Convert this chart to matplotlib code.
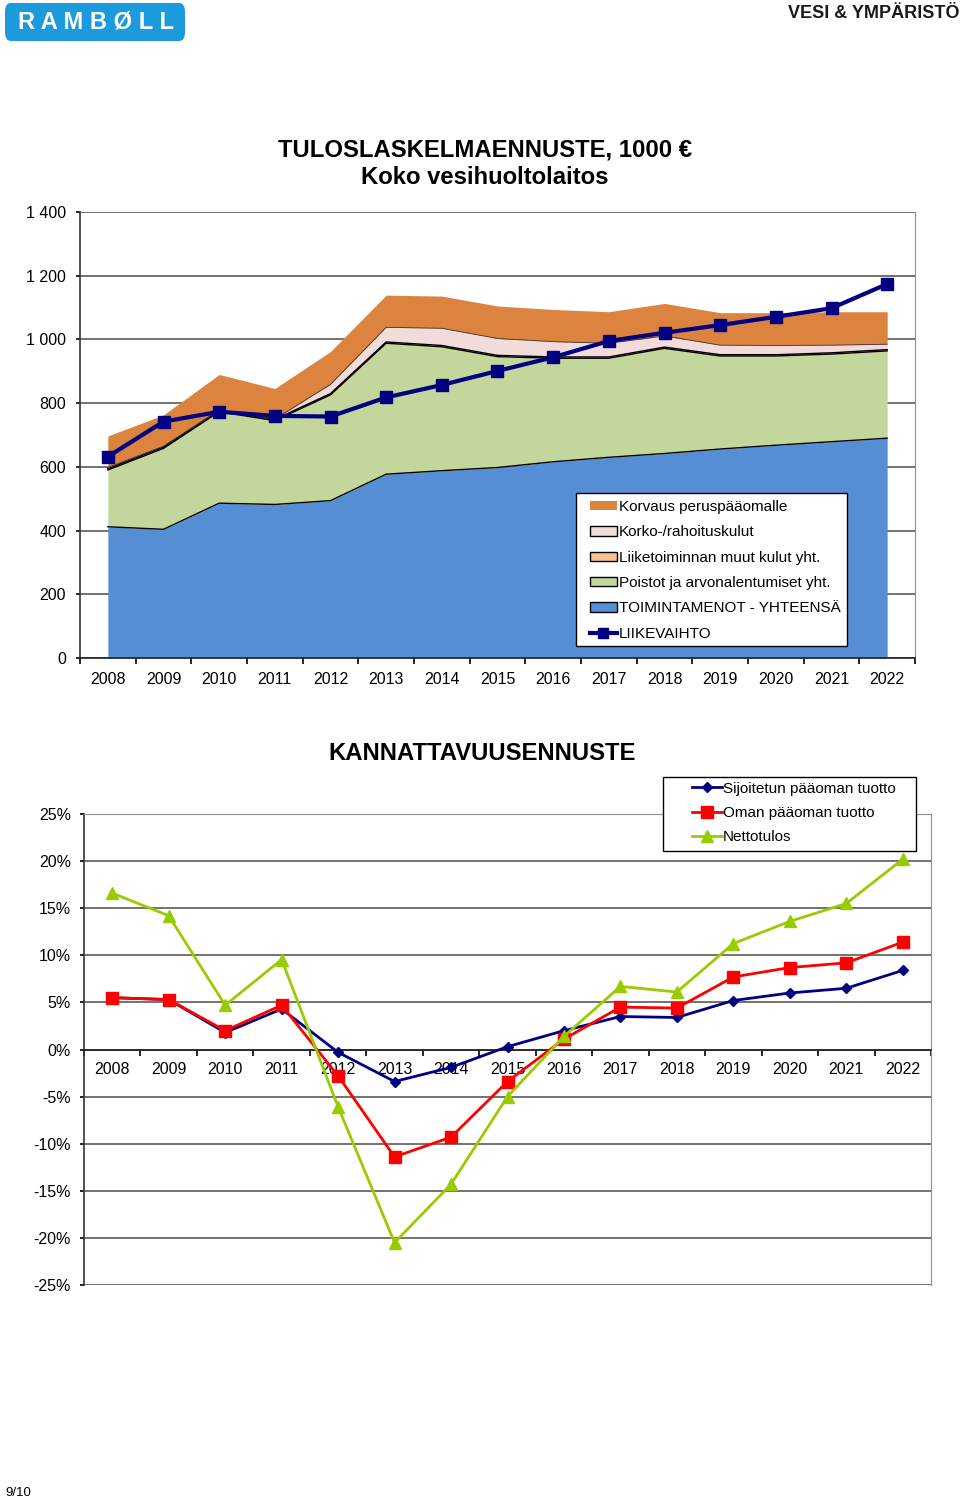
import matplotlib
matplotlib.use("Agg")
import matplotlib.pyplot as plt
from matplotlib.patches import FancyBboxPatch, Patch, Rectangle
from matplotlib.lines import Line2D
from matplotlib.ticker import FuncFormatter, MultipleLocator, FixedLocator

plt.rcParams['font.family'] = ['Liberation Sans', 'DejaVu Sans']

years = [str(y) for y in range(2008, 2023)]

# --- Tuloslaskelmaennuste (1000 EUR), stacked layers ---
toimintamenot = [412, 404, 486, 482, 494, 577, 588, 598, 616, 630, 642, 656, 668, 679, 690]
poistot = [178, 254, 287, 263, 332, 411, 389, 348, 325, 311, 330, 292, 280, 275, 274]
muut_kulut = [4, 4, 4, 4, 4, 4, 4, 4, 4, 4, 4, 4, 4, 4, 4]
korko = [4, 3, 1, 1, 29, 46, 54, 53, 48, 43, 35, 30, 29, 24, 17]
korvaus = [99, 98, 112, 96, 103, 101, 101, 102, 101, 99, 102, 102, 103, 105, 102]
liikevaihto = [632, 742, 773, 760, 758, 818, 857, 901, 944, 995, 1021, 1045, 1071, 1098, 1174]

# --- Kannattavuusennuste (%) ---
sijoitetun = [5.5, 5.3, 1.8, 4.3, -0.3, -3.4, -1.9, 0.3, 2.0, 3.5, 3.4, 5.2, 6.0, 6.5, 8.4]
oman = [5.5, 5.3, 2.0, 4.7, -2.8, -11.4, -9.3, -3.4, 1.1, 4.5, 4.4, 7.7, 8.7, 9.2, 11.4]
nettotulos = [16.6, 14.2, 4.7, 9.55, -6.1, -20.5, -14.3, -5.0, 1.4, 6.7, 6.1, 11.25, 13.6, 15.5, 20.2]

C_BLUE = '#558ED5'
C_GREEN = '#C3D69B'
C_PEACH = '#FAC090'
C_PINK = '#F2DCDB'
C_ORANGE = '#DC843F'
C_NAVY = '#000080'
GRID = '#5a5a5a'

W, H = 960, 1501
fig = plt.figure(figsize=(W / 100, H / 100), dpi=100)

def fx(px):
    return px / W

def fy(py):
    return 1 - py / H

# Header
logo = FancyBboxPatch((fx(5), fy(41)), fx(180), fy(3) - fy(41),
                      boxstyle="round,pad=0,rounding_size=0.006",
                      transform=fig.transFigure, facecolor='#1B9BDB', edgecolor='none')
fig.patches.append(logo)
fig.text(fx(96), fy(22), 'R A M B Ø L L', color='white', fontsize=17, fontweight='bold',
         ha='center', va='center')
fig.text(fx(959), fy(14), 'VESI & YMPÄRISTÖ', color='#1a1a1a', fontsize=13,
         fontweight='bold', ha='right', va='center')
fig.text(fx(5), fy(1493), '9/10', fontsize=9.5, ha='left', va='center')

# ---------------- Top chart ----------------
ax1 = fig.add_axes([fx(80), fy(658), fx(915) - fx(80), fy(212) - fy(658)])
x = list(range(len(years)))
layers = [toimintamenot, poistot, muut_kulut, korko, korvaus]
colors = [C_BLUE, C_GREEN, C_PEACH, C_PINK, C_ORANGE]
base = [0] * len(x)
tops = []
for vals, col in zip(layers, colors):
    top = [b + v for b, v in zip(base, vals)]
    ax1.fill_between(x, base, top, color=col, linewidth=0, zorder=2)
    tops.append(top)
    base = top
ax1.plot(x, tops[0], color='black', lw=1.0, zorder=3)
ax1.plot(x, tops[1], color='black', lw=1.0, zorder=3)
ax1.plot(x, tops[2], color='black', lw=1.0, zorder=3)
ax1.plot(x, tops[3], color='#3a3a3a', lw=0.6, zorder=3)
ax1.plot(x, liikevaihto, color=C_NAVY, lw=3, marker='s', markersize=8, zorder=4)

ax1.set_xlim(-0.5, len(x) - 0.5)
ax1.set_ylim(0, 1400)
ax1.yaxis.set_major_locator(MultipleLocator(200))
ax1.yaxis.set_major_formatter(FuncFormatter(lambda v, p: f"{int(v):,}".replace(',', ' ')))
ax1.grid(axis='y', color=GRID, lw=1.2, zorder=1)
ax1.set_axisbelow(True)
ax1.set_xticks(x)
ax1.set_xticklabels(years)
ax1.xaxis.set_minor_locator(FixedLocator([i - 0.5 for i in range(len(x) + 1)]))
ax1.tick_params(axis='x', which='major', length=0, labelsize=11.5, pad=10)
ax1.tick_params(axis='x', which='minor', length=4, width=1.2, direction='out')
ax1.tick_params(axis='y', length=3, width=1.2, labelsize=11.5, pad=7)
ax1.spines['top'].set_visible(False)
ax1.spines['right'].set_color('#909090')
ax1.spines['left'].set_linewidth(1.2)
ax1.spines['left'].set_color('#333333')
ax1.spines['bottom'].set_linewidth(1.2)
ax1.spines['bottom'].set_color('#222222')

fig.text(fx(485), fy(150), 'TULOSLASKELMAENNUSTE, 1000 €', fontsize=17.2,
         fontweight='bold', ha='center', va='center')
fig.text(fx(485), fy(177), 'Koko vesihuoltolaitos', fontsize=17.2,
         fontweight='bold', ha='center', va='center')

# legend 1 frame drawn manually
fig.patches.append(Rectangle((fx(576), fy(646)), fx(847) - fx(576), fy(493) - fy(646),
                             transform=fig.transFigure, facecolor='white',
                             edgecolor='black', lw=1.0, zorder=5))
h1 = [
    Patch(facecolor=C_ORANGE, edgecolor='none', label='Korvaus peruspääomalle'),
    Patch(facecolor=C_PINK, edgecolor='black', label='Korko-/rahoituskulut'),
    Patch(facecolor=C_PEACH, edgecolor='black', label='Liiketoiminnan muut kulut yht.'),
    Patch(facecolor=C_GREEN, edgecolor='black', label='Poistot ja arvonalentumiset yht.'),
    Patch(facecolor=C_BLUE, edgecolor='black', label='TOIMINTAMENOT - YHTEENSÄ'),
    Line2D([], [], color=C_NAVY, lw=3, marker='s', markersize=7, label='LIIKEVAIHTO'),
]
leg1 = fig.legend(handles=h1, loc='upper left', bbox_to_anchor=(fx(584), fy(494)),
                  fontsize=11, frameon=False, handlelength=1.75, handleheight=0.55,
                  handletextpad=0.12, labelspacing=0.74, borderpad=0.4, borderaxespad=0)
leg1.set_zorder(6)

# ---------------- Bottom chart ----------------
ax2 = fig.add_axes([fx(84), fy(1285), fx(931) - fx(84), fy(814) - fy(1285)])
ax2.plot(x, sijoitetun, color=C_NAVY, lw=2, marker='D', markersize=5.5, zorder=4,
         label='Sijoitetun pääoman tuotto')
ax2.plot(x, oman, color='#FF0000', lw=2, marker='s', markersize=8, zorder=4,
         label='Oman pääoman tuotto')
ax2.plot(x, nettotulos, color='#99CC00', lw=2, marker='^', markersize=8, zorder=4,
         label='Nettotulos')
ax2.set_xlim(-0.5, len(x) - 0.5)
ax2.set_ylim(-25, 25)
ax2.yaxis.set_major_locator(MultipleLocator(5))
ax2.yaxis.set_major_formatter(FuncFormatter(lambda v, p: f"{int(round(v))}%"))
ax2.grid(axis='y', color=GRID, lw=1.2, zorder=1)
ax2.set_axisbelow(True)
ax2.spines['bottom'].set_position(('data', 0))
ax2.spines['bottom'].set_linewidth(1.2)
ax2.spines['bottom'].set_color('#222222')
ax2.spines['left'].set_linewidth(1.2)
ax2.spines['left'].set_color('#333333')
ax2.spines['top'].set_color('#909090')
ax2.spines['right'].set_color('#909090')
ax2.set_xticks(x)
ax2.set_xticklabels(years)
ax2.xaxis.set_minor_locator(FixedLocator([i - 0.5 for i in range(len(x) + 1)]))
ax2.tick_params(axis='x', which='major', length=0, labelsize=11.5, pad=9)
ax2.tick_params(axis='x', which='minor', length=4, width=1.2, direction='out')
ax2.tick_params(axis='y', length=3, width=1.2, labelsize=11.5, pad=6.5)
for lab in ax2.get_xticklabels():
    lab.set_zorder(5)

fig.text(fx(482), fy(753), 'KANNATTAVUUSENNUSTE', fontsize=17.2, fontweight='bold',
         ha='center', va='center')

fig.patches.append(Rectangle((fx(663), fy(851)), fx(916) - fx(663), fy(777) - fy(851),
                             transform=fig.transFigure, facecolor='white',
                             edgecolor='black', lw=1.0, zorder=5))
leg2 = fig.legend(handles=ax2.get_lines(), loc='upper left',
                  bbox_to_anchor=(fx(687), fy(777)), fontsize=11, frameon=False,
                  handlelength=2.0, handletextpad=0.05, labelspacing=0.68,
                  borderpad=0.3, borderaxespad=0)
leg2.set_zorder(6)

fig.savefig('out.png', dpi=100)
